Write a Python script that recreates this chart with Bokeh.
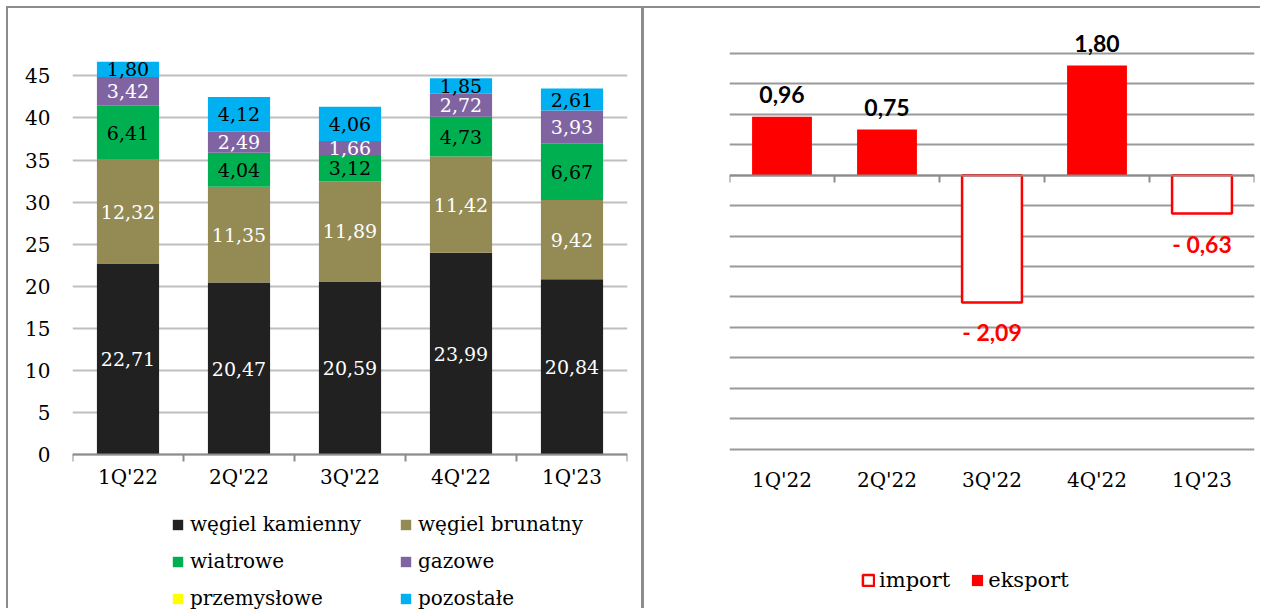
import numpy as np
from bokeh.plotting import figure
from bokeh.models import (Range1d, FixedTicker, LinearAxis, ColumnDataSource,
                          Legend, LegendItem)
from bokeh.layouts import row
from bokeh.core.properties import value
from bokeh.embed import file_html
from bokeh.resources import INLINE

# ---------------- data ----------------
quarters = ["1Q'22", "2Q'22", "3Q'22", "4Q'22", "1Q'23"]

wegiel_kamienny = [22.71, 20.47, 20.59, 23.99, 20.84]
wegiel_brunatny = [12.32, 11.35, 11.89, 11.42, 9.42]
wiatrowe = [6.41, 4.04, 3.12, 4.73, 6.67]
gazowe = [3.42, 2.49, 1.66, 2.72, 3.93]
przemyslowe = [0.0, 0.0, 0.0, 0.0, 0.0]
pozostale = [1.80, 4.12, 4.06, 1.85, 2.61]
series_labels = ["węgiel kamienny", "węgiel brunatny", "wiatrowe",
                 "gazowe", "przemysłowe", "pozostałe"]
left_ticks = [0, 5, 10, 15, 20, 25, 30, 35, 40, 45]

eksport = [0.96, 0.75, None, 1.80, None]
import_ = [None, None, -2.09, None, -0.63]
right_grid = [-4.5, -4.0, -3.5, -3.0, -2.5, -2.0, -1.5, -1.0, -0.5,
              0.0, 0.5, 1.0, 1.5, 2.0]

# ---------------- styles ----------------
SERIF = "DejaVu Serif"
SANS_B = "Lato"
colors = ["#212121", "#948A54", "#00B050", "#8064A2", "#FFFF00", "#00B0F0"]
label_colors = ["white", "white", "black", "white", "black", "black"]
GRAY = "#8c8c8c"
FRAME_H = 590


def fmt(v):
    return f"{v:.2f}".replace(".", ",")


pos = [i + 0.5 for i in range(len(quarters))]
bounds = list(range(len(quarters) + 1))


def boundary_axis():
    return LinearAxis(fixed_location=0, ticker=FixedTicker(ticks=[], minor_ticks=bounds),
                      axis_line_color=GRAY, axis_line_width=2,
                      major_tick_line_color=None, major_tick_in=0, major_tick_out=0,
                      minor_tick_line_color=GRAY, minor_tick_line_width=2,
                      minor_tick_in=7, minor_tick_out=0,
                      major_label_standoff=0, axis_label_standoff=0)


# ================= LEFT: stacked bars =================
series = [wegiel_kamienny, wegiel_brunatny, wiatrowe, gazowe, przemyslowe, pozostale]
keys = [f"s{i}" for i in range(len(series))]
data = dict(x=pos)
for k, s in zip(keys, series):
    data[k] = s
src = ColumnDataSource(data)

p1 = figure(frame_width=550, frame_height=FRAME_H,
            x_range=Range1d(0, 5), y_range=Range1d(-18.45, 51.79),
            output_backend="svg", toolbar_location=None, x_axis_location=None,
            min_border_left=64, min_border_right=19, min_border_top=10,
            min_border_bottom=0)
p1.outline_line_color = None

rs = p1.vbar_stack(keys, x="x", width=0.56, fill_color=colors, line_color=None,
                   source=src)

bottom = np.zeros(len(quarters))
xs = np.array(pos)
for s, col in zip(series, label_colors):
    arr = np.array(s, dtype=float)
    mid = bottom + arr / 2
    mask = arr > 0
    if mask.any():
        p1.text(x=xs[mask], y=mid[mask], text=[fmt(v) for v in arr[mask]],
                text_align="center", text_baseline="middle",
                text_font=value(SERIF), text_font_size="19px", text_color=col)
    bottom = bottom + arr

# category labels under the axis line
p1.text(x=pos, y=[0] * len(pos), text=quarters, y_offset=22,
        text_align="center", text_baseline="middle", text_font=value(SERIF),
        text_font_size="20px", text_color="black")

p1.yaxis.ticker = FixedTicker(ticks=left_ticks)
p1.yaxis.axis_line_color = None
p1.yaxis.major_tick_line_color = None
p1.yaxis.minor_tick_line_color = None
p1.yaxis.major_tick_out = 0
p1.yaxis.major_label_text_font = SERIF
p1.yaxis.major_label_text_font_size = "20px"
p1.yaxis.major_label_text_color = "black"
p1.yaxis.major_label_standoff = 22

p1.ygrid.ticker = FixedTicker(ticks=left_ticks)
p1.ygrid.grid_line_color = "#bfbfbf"
p1.ygrid.grid_line_width = 2
p1.xgrid.visible = False

p1.add_layout(boundary_axis(), "above")

order = [0, 2, 4, 1, 3, 5]
leg1 = Legend(items=[LegendItem(label=series_labels[i], renderers=[rs[i]]) for i in order],
              location=(99, 0), orientation="vertical", nrows=3,
              label_text_font=SERIF, label_text_font_size="20px",
              label_text_color="black", glyph_width=13, glyph_height=13,
              label_standoff=6, label_width=196, spacing=13, padding=0, margin=0,
              border_line_color=None, background_fill_alpha=0)
p1.add_layout(leg1, "center")

# ================= RIGHT: import / eksport =================
exp_idx = [i for i, v in enumerate(eksport) if v is not None]
imp_idx = [i for i, v in enumerate(import_) if v is not None]
src_e = ColumnDataSource(dict(x=[pos[i] for i in exp_idx],
                              top=[eksport[i] for i in exp_idx],
                              label=[fmt(eksport[i]) for i in exp_idx]))
src_i = ColumnDataSource(dict(x=[pos[i] for i in imp_idx],
                              bottom=[import_[i] for i in imp_idx],
                              label=["- " + fmt(abs(import_[i])) for i in imp_idx]))

p2 = figure(frame_width=525, frame_height=FRAME_H,
            x_range=Range1d(0, 5), y_range=Range1d(-7.148, 2.572),
            output_backend="svg", toolbar_location=None,
            x_axis_location=None, y_axis_location=None,
            min_border_left=85, min_border_right=6, min_border_top=10,
            min_border_bottom=0)
p2.outline_line_color = None

p2.ygrid.ticker = FixedTicker(ticks=right_grid)
p2.ygrid.grid_line_color = "#9a9a9a"
p2.ygrid.grid_line_width = 2
p2.xgrid.visible = False

r_exp = p2.vbar(x="x", top="top", bottom=0, width=0.57, fill_color="#FF0000",
                line_color=None, source=src_e)
r_imp = p2.vbar(x="x", top=0, bottom="bottom", width=0.57, fill_color="white",
                line_color="#FF0000", line_width=2.5, source=src_i)

p2.add_layout(boundary_axis(), "above")

p2.text(x="x", y="top", text="label", source=src_e, y_offset=-22,
        text_align="center", text_baseline="middle", text_font=value(SANS_B),
        text_font_style="bold", text_font_size="23px", text_color="black")
p2.text(x="x", y="bottom", text="label", source=src_i, y_offset=30,
        text_align="center", text_baseline="middle", text_font=value(SANS_B),
        text_font_style="bold", text_font_size="23px", text_color="#FF0000")

# category labels below the lowest gridline
p2.text(x=pos, y=[right_grid[0]] * len(pos), text=quarters, y_offset=31,
        text_align="center", text_baseline="middle", text_font=value(SERIF),
        text_font_size="20px", text_color="black")

leg2 = Legend(items=[LegendItem(label="import", renderers=[r_imp]),
                     LegendItem(label="eksport", renderers=[r_exp])],
              location=(132, 18), orientation="horizontal",
              label_text_font=SERIF, label_text_font_size="21px",
              label_text_color="black", glyph_width=14, glyph_height=14,
              label_standoff=4, spacing=20, padding=0, margin=0,
              border_line_color=None, background_fill_alpha=0)
p2.add_layout(leg2, "center")

p1.margin = (6, 0, 0, 6)
p2.margin = (6, 0, 0, 0)
p1.styles = {"border-top": f"2px solid {GRAY}", "border-left": f"2px solid {GRAY}",
             "border-right": f"3px solid {GRAY}"}
p2.styles = {"border-top": f"2px solid {GRAY}"}

layout = row(p1, p2)
open("out.html", "w").write(file_html(layout, INLINE))
